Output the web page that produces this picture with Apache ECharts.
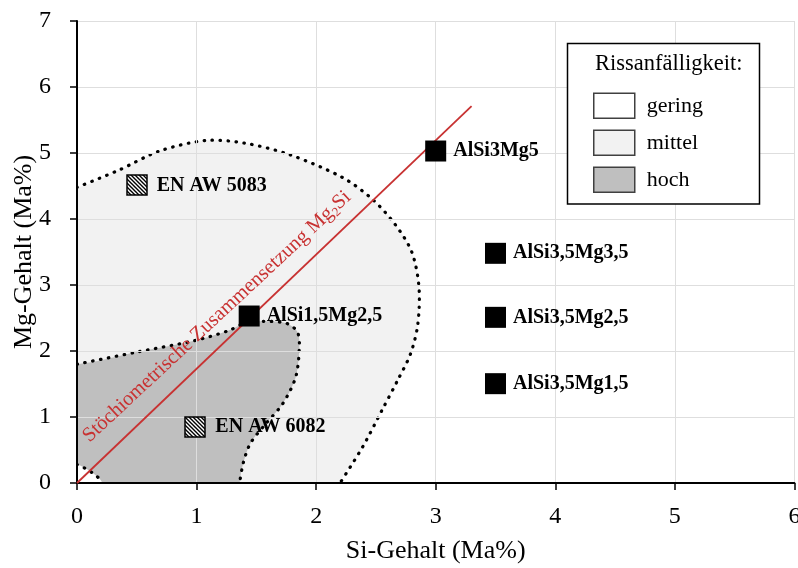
<!DOCTYPE html>
<html>
<head>
<meta charset="utf-8">
<script src="https://cdn.jsdelivr.net/npm/echarts@6/dist/echarts.min.js"></script>
<style>html,body{margin:0;padding:0;background:#fff}#c{width:798px;height:568px}</style>
</head>
<body>
<div id="c"></div>
<script>
// ---- data ----
const xTicks = [0, 1, 2, 3, 4, 5, 6];
const yTicks = [0, 1, 2, 3, 4, 5, 6, 7];
const xTitle = 'Si-Gehalt (Ma%)';
const yTitle = 'Mg-Gehalt (Ma%)';

const alloyNames = ['AlSi3Mg5', 'AlSi3,5Mg3,5', 'AlSi3,5Mg2,5', 'AlSi3,5Mg1,5', 'AlSi1,5Mg2,5'];
const alloySi = [3.0, 3.5, 3.5, 3.5, 1.44];
const alloyMg = [5.03, 3.48, 2.51, 1.505, 2.53];

const refNames = ['EN AW 5083', 'EN AW 6082'];
const refSi = [0.5, 0.99];
const refMg = [4.51, 0.85];

const stoichSi = [0, 3.3];
const stoichMg = [0, 5.71];
const stoichLabelPos = [1.17, 2.52];

// region boundaries (Si, Mg)
const mittelBoundary = [[0,4.48],[0.35,4.74],[0.69,5.03],[1.08,5.19],[1.4,5.15],[1.77,4.98],[2.22,4.63],[2.47,4.3],[2.66,3.92],[2.8,3.5],[2.86,2.97],[2.85,2.4],[2.79,1.96],[2.68,1.55],[2.55,1.1],[2.39,0.55],[2.2,0]];
const mittelOutside = [[2.12,-1],[-1,-1],[-1,4.4]];
const hochBoundary = [[0,1.8],[0.49,1.98],[0.99,2.16],[1.27,2.31],[1.4,2.42],[1.55,2.45],[1.75,2.42],[1.84,2.3],[1.86,2.1],[1.83,1.61],[1.72,1.2],[1.58,0.9],[1.45,0.6],[1.39,0.3],[1.36,0]];
const hochOutside = [[1.33,-1],[-1,-1],[-1,1.75]];
const geringBoundary = [[0,0.28],[0.06,0.23],[0.14,0.14],[0.19,0.06],[0.21,0]];
const geringOutside = [[0.22,-0.5],[-0.5,-0.5],[-0.5,0.3]];

const legendTitle = 'Rissanfälligkeit:';
const legendNames = ['gering', 'mittel', 'hoch'];
const legendColors = ['#ffffff', '#f2f2f2', '#bfbfbf'];

// ---- chart ----
const FONT = 'Liberation Serif';
const chart = echarts.init(document.getElementById('c'), null, {renderer: 'canvas'});

function hatch() {
  const c = document.createElement('canvas');
  c.width = 4; c.height = 4;
  const g = c.getContext('2d');
  g.fillStyle = '#fff'; g.fillRect(0, 0, 4, 4);
  g.strokeStyle = '#000'; g.lineWidth = 1.4;
  g.beginPath();
  for (let k = -4; k <= 4; k += 4) { g.moveTo(k - 1, -1); g.lineTo(k + 5, 5); }
  g.stroke();
  return c;
}
const hatchPattern = {image: hatch(), repeat: 'repeat'};

function regionSeries(name, boundary, outside, fill, z) {
  return {
    type: 'custom', name: name, coordinateSystem: 'cartesian2d', clip: true, silent: true, z: z,
    data: [[0, 0]],
    itemStyle: {color: fill},
    renderItem: function (params, api) {
      const pts = boundary.map(p => api.coord(p));
      const fillPts = pts.concat(outside.map(p => api.coord(p)));
      return {type: 'group', children: [
        {type: 'polygon', shape: {points: fillPts, smooth: 0.3}, style: {fill: fill, stroke: null}},
        {type: 'polyline', shape: {points: pts, smooth: 0.3},
         style: {fill: null, stroke: '#000', lineWidth: 3.2, lineDash: [0.5, 7.5], lineCap: 'round'}}
      ]};
    }
  };
}

const axisCommon = {
  type: 'value', interval: 1, z: 5,
  nameLocation: 'middle', nameMoveOverlap: false,
  nameTextStyle: {fontFamily: FONT, fontSize: 26, color: '#000'},
  axisLine: {show: true, onZero: false, lineStyle: {color: '#000', width: 2}},
  axisTick: {show: true, length: 7, lineStyle: {color: '#000', width: 1.5}},
  splitLine: {show: true, lineStyle: {color: '#dedede', width: 1}}
};

const option = {
  animation: false,
  backgroundColor: '#ffffff',
  grid: {left: 77, right: 3.6, top: 21, bottom: 85, containLabel: false, outerBoundsMode: 'none'},
  xAxis: Object.assign({}, axisCommon, {
    min: xTicks[0], max: xTicks[xTicks.length - 1], name: xTitle, nameGap: 55,
    axisLabel: {fontFamily: FONT, fontSize: 24, color: '#000', margin: 22}
  }),
  yAxis: Object.assign({}, axisCommon, {
    min: yTicks[0], max: yTicks[yTicks.length - 1], name: yTitle, nameGap: 40,
    axisLabel: {fontFamily: FONT, fontSize: 24, color: '#000', margin: 26}
  }),
  legend: {
    orient: 'vertical', left: 588, top: 87.5, z: 12,
    itemWidth: 41, itemHeight: 25, itemGap: 10.5, icon: 'rect',
    selectedMode: false,
    textStyle: {fontFamily: FONT, fontSize: 22, color: '#000', padding: [0, 0, 0, 7]},
    data: legendNames.map((n, i) => ({name: n, itemStyle: {color: legendColors[i], borderColor: '#404040', borderWidth: 1.5}}))
  },
  graphic: [
    {type: 'rect', z: 10, shape: {x: 567.5, y: 43.5, width: 192, height: 160.5},
     style: {fill: '#fff', stroke: '#000', lineWidth: 1.5}},
    {type: 'text', z: 11, left: 595, top: 53, style: {text: legendTitle, font: '22.5px "Liberation Serif"', fill: '#000'}}
  ],
  series: [
    regionSeries('mittel', mittelBoundary, mittelOutside, legendColors[1], 1),
    regionSeries('hoch', hochBoundary, hochOutside, legendColors[2], 2),
    regionSeries('gering', geringBoundary, geringOutside, legendColors[0], 3),
    {
      type: 'line', name: 'Mg2Si', z: 6, silent: true, symbol: 'none',
      data: stoichSi.map((x, i) => [x, stoichMg[i]]),
      lineStyle: {color: '#c83232', width: 1.8}
    },
    {
      type: 'scatter', name: 'label', z: 6, silent: true, symbolSize: 1,
      itemStyle: {color: 'rgba(0,0,0,0)', opacity: 1},
      data: [stoichLabelPos],
      label: {
        show: true, position: 'inside', rotate: 43,
        formatter: 'Stöchiometrische Zusammensetzung Mg{s|2}Si',
        fontFamily: FONT, fontSize: 20.5, color: '#c83232', lineHeight: 24,
        rich: {s: {fontFamily: FONT, fontSize: 13, color: '#c83232', verticalAlign: 'bottom', lineHeight: 20}}
      }
    },
    {
      type: 'scatter', name: 'Legierungen', z: 7, silent: true,
      symbol: 'rect', symbolSize: 21,
      itemStyle: {color: '#000', opacity: 1},
      data: alloyNames.map((n, i) => ({name: n, value: [alloySi[i], alloyMg[i]]})),
      label: {show: true, position: 'right', distance: 7, formatter: '{b}',
              fontFamily: FONT, fontSize: 20, fontWeight: 'bold', color: '#000'}
    },
    {
      type: 'custom', name: 'Referenz', coordinateSystem: 'cartesian2d', z: 7, silent: true,
      data: refNames.map((n, i) => ({name: n, value: [refSi[i], refMg[i]]})),
      renderItem: function (params, api) {
        const c = api.coord([api.value(0), api.value(1)]);
        return {type: 'rect', shape: {x: Math.round(c[0]) - 10, y: Math.round(c[1]) - 10, width: 20, height: 20},
                style: {fill: hatchPattern, stroke: '#000', lineWidth: 1.5}};
      }
    },
    {
      type: 'scatter', name: 'ReferenzLabel', z: 7, silent: true,
      symbol: 'rect', symbolSize: 20,
      itemStyle: {color: 'rgba(0,0,0,0)', opacity: 1},
      data: refNames.map((n, i) => ({name: n, value: [refSi[i], refMg[i]]})),
      label: {show: true, position: 'right', distance: 10, formatter: '{b}',
              fontFamily: FONT, fontSize: 20, fontWeight: 'bold', color: '#000'}
    }
  ]
};
chart.setOption(option);
</script>
</body>
</html>
